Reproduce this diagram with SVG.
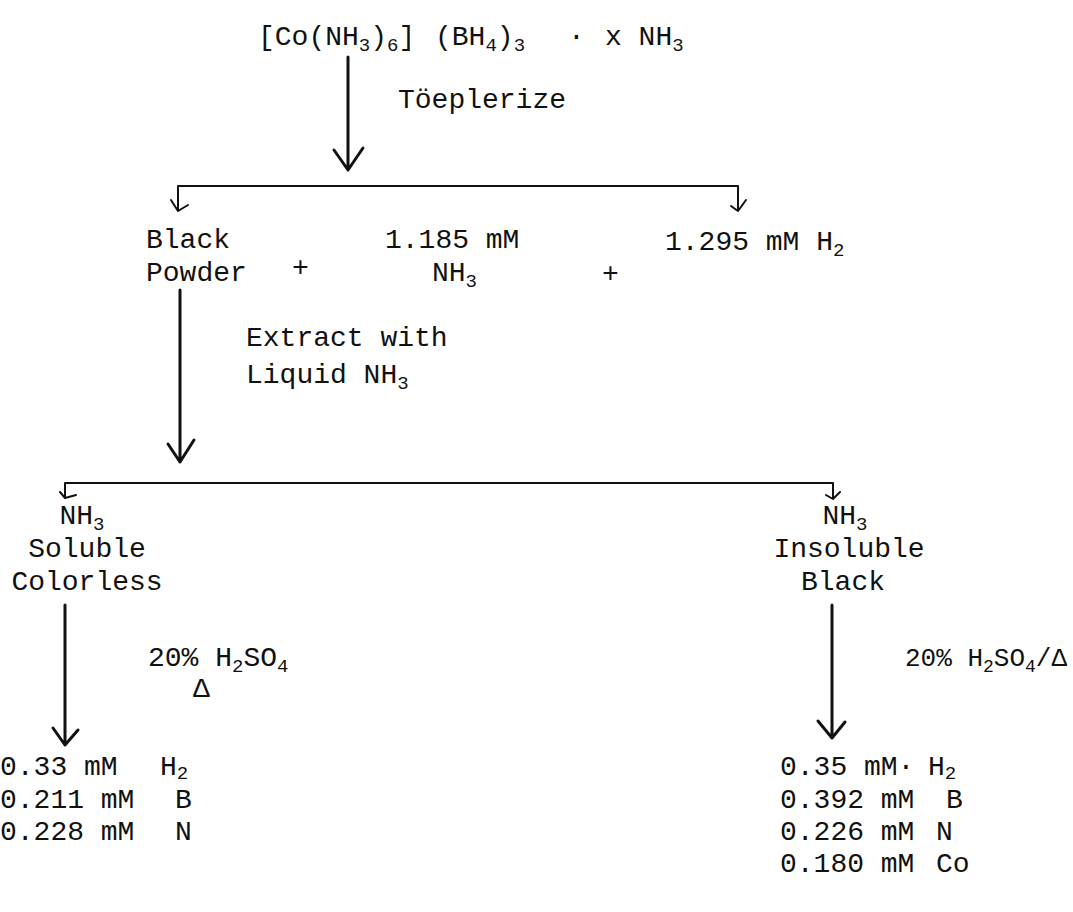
<svg xmlns="http://www.w3.org/2000/svg" width="1073" height="912" viewBox="0 0 1073 912">
<style>
text{font-family:"Liberation Mono","DejaVu Sans Mono",monospace;font-size:28px;fill:#111;white-space:pre}
.s{font-size:19px}
.ln{stroke:#111;stroke-width:3;fill:none;stroke-linecap:round;stroke-linejoin:round}
.tk{stroke:#111;stroke-width:2;fill:none;stroke-linecap:round;stroke-linejoin:round}
</style>
<rect width="1073" height="912" fill="#fff"/>
<g id="connectors">
  <path class="ln" d="M348 57V170M334 150L348 170L363 148"/>
  <path class="tk" d="M178 186H738M178 186V210M171 200L178 211L188 205M738 186V210M731 206L738 211L746 200"/>
  <path class="ln" d="M180 290V462M168 444L180 462L194 440"/>
  <path class="tk" d="M65 483H833M65 483V498M60 492L65 498L76 495M833 483V498M826 495L833 499L840 492"/>
  <path class="ln" d="M65 605V745M53 728L65 745L78 730"/>
  <path class="ln" d="M832 605V738M818 721L832 738L845 722"/>
</g>
<g id="start"><text x="258" y="45">[Co(NH<tspan class="s" dy="6">3</tspan><tspan dy="-6">)</tspan><tspan class="s" dy="6">6</tspan><tspan dy="-6">]</tspan></text><text x="435" y="45">(BH<tspan class="s" dy="6">4</tspan><tspan dy="-6">)</tspan><tspan class="s" dy="6">3</tspan></text><text x="568" y="45">·</text><text x="605" y="45">x NH<tspan class="s" dy="6">3</tspan></text></g>
<g id="label-toeplerize"><text x="398" y="108">Töeplerize</text></g>
<g id="black-powder"><text x="146" y="248">Black</text><text x="146" y="281">Powder</text></g>
<g id="plus1"><text x="292" y="276">+</text></g>
<g id="nh3-product"><text x="385" y="248">1.185 mM</text><text x="432" y="281">NH<tspan class="s" dy="6">3</tspan></text></g>
<g id="plus2"><text x="602" y="282">+</text></g>
<g id="h2-product"><text x="665" y="250">1.295 mM H<tspan class="s" dy="6">2</tspan></text></g>
<g id="label-extract"><text x="246" y="346">Extract with</text><text x="246" y="383">Liquid NH<tspan class="s" dy="6">3</tspan></text></g>
<g id="soluble"><text x="82" y="524" text-anchor="middle">NH<tspan class="s" dy="6">3</tspan></text><text x="87" y="557" text-anchor="middle">Soluble</text><text x="87" y="590" text-anchor="middle">Colorless</text></g>
<g id="insoluble"><text x="845" y="524" text-anchor="middle">NH<tspan class="s" dy="6">3</tspan></text><text x="849" y="557" text-anchor="middle">Insoluble</text><text x="843" y="590" text-anchor="middle">Black</text></g>
<g id="label-acid-left"><text x="148" y="666">20% H<tspan class="s" dy="6">2</tspan><tspan dy="-6">SO</tspan><tspan class="s" dy="6">4</tspan></text><text x="193" y="697">Δ</text></g>
<g id="label-acid-right"><text x="905" y="666" style="font-size:26px">20% H<tspan class="s" dy="6" style="font-size:18px">2</tspan><tspan dy="-6">SO</tspan><tspan dy="6" style="font-size:18px">4</tspan><tspan dy="-6">/Δ</tspan></text></g>
<g id="result-soluble"><text x="0" y="775">0.33 mM<tspan x="160">H<tspan class="s" dy="4">2</tspan></tspan></text><text x="0" y="808">0.211 mM<tspan x="175">B</tspan></text><text x="0" y="840">0.228 mM<tspan x="175">N</tspan></text></g>
<g id="result-insoluble"><text x="780" y="775">0.35 mM·<tspan x="928">H<tspan class="s" dy="4">2</tspan></tspan></text><text x="780" y="808">0.392 mM<tspan x="946">B</tspan></text><text x="780" y="840">0.226 mM<tspan x="936">N</tspan></text><text x="780" y="872">0.180 mM<tspan x="936">Co</tspan></text></g>
</svg>
